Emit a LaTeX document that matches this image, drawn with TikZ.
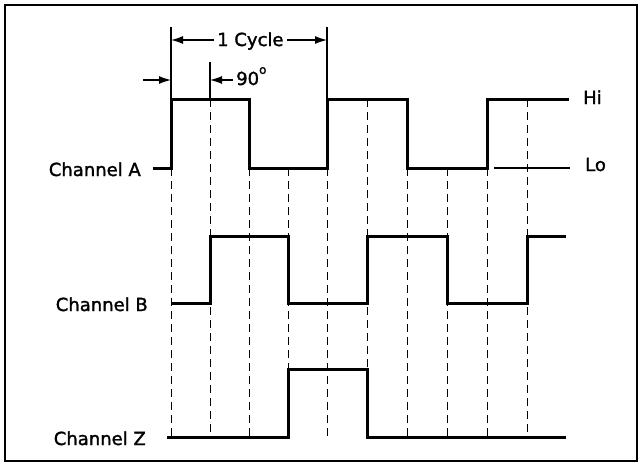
\documentclass[tikz,border=0pt]{standalone}
\usepackage{fontspec}
\setmainfont{DejaVu Sans}[BoldFont={DejaVu Sans},BoldFeatures={FakeBold=1.6}]
\usetikzlibrary{arrows.meta}
\begin{document}
\begin{tikzpicture}[x=1pt,y=-1pt,
  sig/.style={line width=3pt,line join=miter},
  guide/.style={line width=1pt,dash pattern=on 8pt off 5pt},
  ext/.style={line width=1.2pt},
  dim/.style={line width=1.2pt,-{Latex[length=12pt,width=8pt]}},
  lbl/.style={inner sep=0pt,font=\fontsize{18}{20}\selectfont\bfseries}]
\useasboundingbox (0,0) rectangle (641,466);
\draw[line width=2.5pt] (5,5) rectangle (637,461);
% guide lines
\foreach \x/\t in {171/168,210/99,249/168,288/168,327/168,367/99,407/168,447/168,487/168,527/99}
  \draw[guide] (\x,\t) -- (\x,437);
% extension lines
\draw[ext] (171,27) -- (171,99);
\draw[ext] (210,62) -- (210,99);
\draw[ext] (327,27) -- (327,99);
% labels
\node[lbl,anchor=base east] (la) at (141,176) {Channel A};
\node[lbl,anchor=base east] (lb) at (148,311) {Channel B};
\node[lbl,anchor=base east] (lz) at (146,445) {Channel Z};
\node[lbl,anchor=base west] (hi) at (583,104) {Hi};
\node[lbl,anchor=base west] (lo) at (585,171) {Lo};
\node[lbl,anchor=base west] (cyc) at (217,46) {1 Cycle};
\node[lbl,anchor=base west] (deg) at (236,85) {90\raisebox{0.62em}{\fontsize{12}{12}\selectfont o}};
% dimension arrows
\coordinate (c1) at (171,40);
\coordinate (c2) at (327,40);
\coordinate (d0) at (143,80);
\coordinate (d1) at (171,80);
\coordinate (d2) at (210,80);
\draw[dim] (cyc.west |- c1) ++(-3pt,0) -- (c1);
\draw[dim] (cyc.east |- c2) ++(3pt,0) -- (c2);
\draw[dim] (d0) -- (d1);
\draw[dim] (deg.west |- d2) ++(-3pt,0) -- (d2);
% waveforms
\draw[sig] (153,168) -- (171,168) -- (171,99) -- (249,99) -- (249,168) -- (327,168) -- (327,99) -- (407,99) -- (407,168) -- (487,168) -- (487,99) -- (569,99);
\draw[line width=1.5pt] (494,168) -- (570,168);
\draw[sig] (172,303) -- (210,303) -- (210,236) -- (288,236) -- (288,303) -- (367,303) -- (367,236) -- (447,236) -- (447,303) -- (527,303) -- (527,236) -- (566,236);
\draw[sig] (167,437) -- (288,437) -- (288,369) -- (367,369) -- (367,437) -- (566,437);
\end{tikzpicture}
\end{document}
